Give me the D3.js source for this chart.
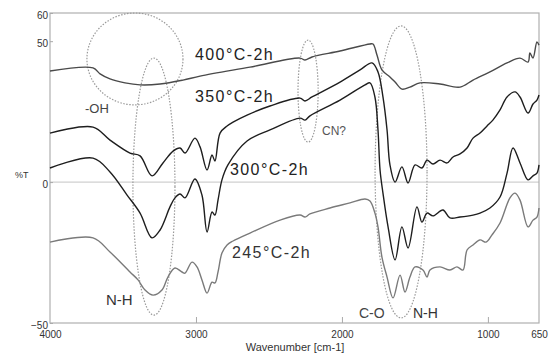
<!DOCTYPE html>
<html><head><meta charset="utf-8">
<script src="https://cdn.jsdelivr.net/npm/d3@7/dist/d3.min.js"></script>
<style>
html,body{margin:0;padding:0;background:#fff;}
svg{display:block;font-family:"Liberation Sans",Arial,sans-serif;}
</style></head><body>
<svg id="c" width="552" height="354"></svg>
<script>
// ---- data (wavenumber cm-1, %T) ----
const wn400 = [4000,3705,3657,3589,3486,3383,3246,3089,2972,2630,2287,2253,2205,2013,1808,1787,1760,1726,1671,1636,1589,1534,1465,1328,1191,1102,986,869,780,725,712,691,664,650];
const t400  = [39.4,40.5,38.4,36.6,35.2,34.5,34.8,36.2,37.6,40.8,44.0,43.3,44.4,46.5,49.0,49.0,45.1,39.8,37.3,35.5,33.0,33.7,35.2,34.8,33.7,36.2,39.1,42.3,44.0,42.6,45.8,44.0,49.7,48.6];

const wn350 = [4000,3705,3589,3452,3383,3301,3226,3157,3109,3075,3007,2972,2924,2890,2870,2835,2787,2746,2650,2493,2287,2253,2205,2013,1876,1794,1753,1719,1691,1671,1636,1589,1547,1499,1452,1417,1376,1328,1280,1239,1191,1143,1102,1054,1006,966,917,869,814,780,725,691,664,650];
const t350  = [17.4,19.5,14.9,10.3,9.3,2.2,6.8,11.0,12.1,10.3,15.6,12.5,4.3,9.6,7.5,17.4,19.9,21.3,23.8,27.0,29.8,28.8,30.2,35.5,39.8,42.3,39.1,30.2,18.5,6.1,0.0,5.4,-0.3,6.1,5.0,7.8,6.4,7.8,6.8,8.9,10.0,12.1,15.6,17.4,19.9,22.0,25.6,30.2,32.0,30.2,24.5,27.7,29.1,30.9];

const wn300 = [4000,3705,3589,3472,3383,3301,3246,3178,3144,3109,3075,3007,2959,2924,2890,2870,2849,2822,2781,2650,2493,2287,2253,2219,2013,1842,1808,1774,1753,1739,1719,1684,1636,1589,1547,1486,1452,1417,1376,1308,1260,1191,1102,1054,986,917,869,828,780,725,691,664,650];
const t300  = [5.0,8.5,3.6,-4.6,-11.0,-19.8,-17.0,-8.8,-5.6,-4.2,-5.6,1.1,-4.6,-17.7,-10.6,-11.7,-6.4,0.8,6.1,14.6,18.5,22.7,22.0,23.5,29.1,34.5,35.2,30.2,18.5,4.3,-3.9,-15.9,-27.6,-15.9,-23.4,-8.8,-14.2,-11.0,-12.0,-9.9,-12.7,-12.4,-11.7,-11.0,-9.2,-5.3,3.2,12.1,6.8,0.8,2.2,3.2,6.1];

const wn245 = [4000,3705,3589,3452,3397,3349,3294,3233,3192,3144,3096,3075,3027,2993,2959,2924,2890,2870,2849,2822,2787,2746,2630,2424,2287,2253,2219,2082,1945,1842,1808,1774,1753,1726,1691,1650,1602,1568,1534,1499,1445,1417,1397,1328,1260,1212,1171,1143,1102,1054,1013,973,917,849,814,780,725,691,664,650];
const t245  = [-21.3,-19.8,-24.8,-31.9,-34.7,-38.3,-40.1,-38.3,-33.7,-30.5,-31.9,-32.3,-28.4,-30.1,-34.7,-39.4,-35.5,-35.8,-31.9,-25.2,-22.3,-20.9,-18.1,-13.5,-11.7,-12.4,-11.3,-9.2,-7.4,-6.0,-6.7,-11.0,-15.9,-26.6,-33.7,-41.1,-33.0,-39.0,-33.7,-30.1,-31.2,-33.7,-31.2,-30.1,-31.2,-30.1,-31.2,-24.1,-22.3,-20.5,-21.3,-18.8,-14.5,-5.6,-3.9,-6.4,-15.9,-13.5,-12.4,-9.2];

const seriesNames = ["400°C-2h","350°C-2h","300°C-2h","245°C-2h"];
const xTicks = [4000,3000,2000,1000,650];
const yTicks = [60,50,0,-50];

// annotation ellipses: centre wavenumber, centre %T, half-width (cm-1), half-height (%T)
const ellWn = [3418,3288,2232,1595];
const ellT  = [43.7,-1.6,32.3,3.6];
const ellRw = [329,144,69,178];
const ellRt = [16.3,45.6,18.1,51.8];

// ---- drawing ----
const svg = d3.select("#c");
const L=50,R=539,T=13,B=323;
const x = d3.scaleLinear().domain([4000,650]).range([L,R]);
const y = d3.scaleLinear().domain([60,-50]).range([T,B]);

// zero line
svg.append("line").attr("x1",L).attr("x2",R).attr("y1",y(0)).attr("y2",y(0))
  .attr("stroke","#d0d0d0").attr("stroke-width",1.2);

// frame
svg.append("rect").attr("x",L).attr("y",T).attr("width",R-L).attr("height",B-T)
  .attr("fill","none").attr("stroke","#b0b0b0").attr("stroke-width",1.2);

// axes
const gx = svg.append("g").attr("transform",`translate(0,${B})`)
  .call(d3.axisBottom(x).tickValues(xTicks).tickSize(-6).tickPadding(8).tickFormat(d3.format("d")));
gx.select(".domain").remove();
gx.selectAll(".tick line").attr("stroke","#aaa");
gx.selectAll(".tick text").attr("font-size",10).attr("fill","#333").attr("font-family","Liberation Sans, Arial, sans-serif");
gx.selectAll(".tick").filter(d=>d===4000||d===650).select("line").remove();

const gy = svg.append("g").attr("transform",`translate(${L},0)`)
  .call(d3.axisLeft(y).tickValues(yTicks).tickSize(-3).tickPadding(2).tickFormat(d3.format("d")));
gy.select(".domain").remove();
gy.selectAll(".tick line").attr("stroke","#aaa");
gy.selectAll(".tick text").attr("font-size",10).attr("fill","#333").attr("dy","0.5em").attr("font-family","Liberation Sans, Arial, sans-serif");

svg.append("text").attr("x",15).attr("y",178).attr("font-size",9).attr("fill","#333").text("%T");
svg.append("text").attr("x",295).attr("y",351).attr("text-anchor","middle").attr("font-size",11).attr("fill","#333").text("Wavenumber [cm-1]");

// ellipses
ellWn.forEach((w,i)=>{
  svg.append("ellipse")
    .attr("cx",x(w)).attr("cy",y(ellT[i]))
    .attr("rx",Math.abs(x(w+ellRw[i])-x(w))).attr("ry",Math.abs(y(ellT[i]+ellRt[i])-y(ellT[i])))
    .attr("fill","none").attr("stroke","#9a9a9a").attr("stroke-width",1.2).attr("stroke-dasharray","1.5,1.5");
});

// curves
const line = d3.line().x(d=>x(d[0])).y(d=>y(d[1])).curve(d3.curveCatmullRom.alpha(0.5));
const curves = [[wn400,t400,"#4a4a4a"],[wn350,t350,"#1e1e1e"],[wn300,t300,"#1e1e1e"],[wn245,t245,"#7a7a7a"]];
curves.forEach(([w,t,c])=>{
  svg.append("path").datum(w.map((v,i)=>[v,t[i]])).attr("d",line)
    .attr("fill","none").attr("stroke",c).attr("stroke-width",1.4).attr("stroke-linejoin","round");
});

// labels
const lab = (txt,px,py,fs,col,ls)=>svg.append("text").attr("x",px).attr("y",py).attr("font-size",fs)
  .attr("fill",col).attr("letter-spacing",ls||0).text(txt);
lab(seriesNames[0],195,60,16,"#222",1.4);
lab(seriesNames[1],195,102,16,"#222",1.4);
lab(seriesNames[2],230,175,16,"#222",1.4);
lab(seriesNames[3],232,258,16,"#333",1.4);
lab("-OH",85,113,13,"#444");
lab("CN?",322,135,12,"#555");
lab("N-H",106,305,15,"#333");
lab("C-O",359,318,14,"#444");
lab("N-H",413,318,14,"#333");
</script>
</body></html>
